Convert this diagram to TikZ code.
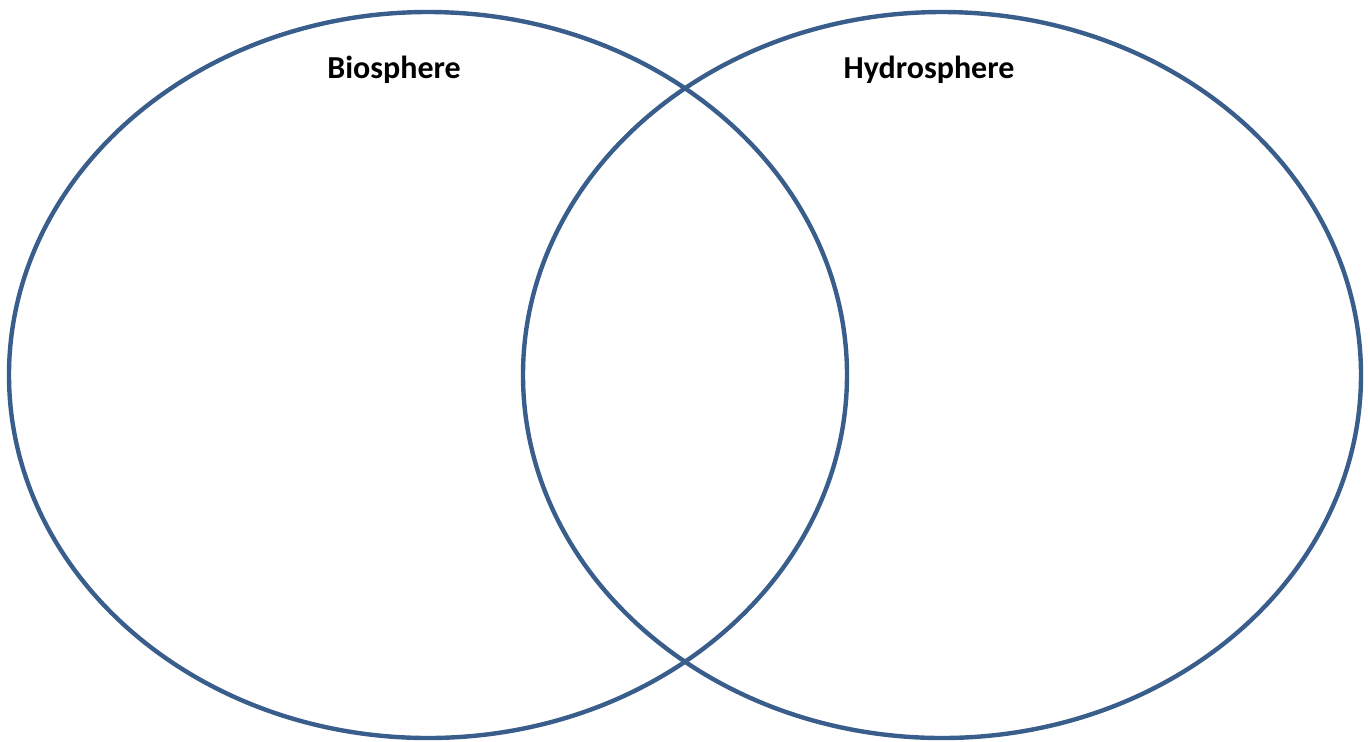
\documentclass[tikz,border=0pt]{standalone}
\usepackage{fontspec}
\setmainfont{Carlito}
\definecolor{azulvenn}{RGB}{58,94,140}
\begin{document}
\begin{tikzpicture}[x=0.5pt,y=-0.5pt]
    % Definir los radios
    \def\rx{419}
    \def\ry{363}

    % Fijar el marco
    \useasboundingbox (0,0) rectangle (1370,741);

    % Centros de las elipses
    \coordinate (O1) at (428,375);
    \coordinate (O2) at (942,375);

    % Dibujar las dos elipses
    \draw[azulvenn, line width=2.2pt] (O1) ellipse ({\rx} and {\ry});
    \draw[azulvenn, line width=2.2pt] (O2) ellipse ({\rx} and {\ry});

    % Etiquetas
    \node[font=\bfseries\fontsize{16}{19}\selectfont] (bio) at (394,70) {Biosphere};
    \node[font=\bfseries\fontsize{16}{19}\selectfont] (hidro) at (929,70) {Hydrosphere};
\end{tikzpicture}
\end{document}
